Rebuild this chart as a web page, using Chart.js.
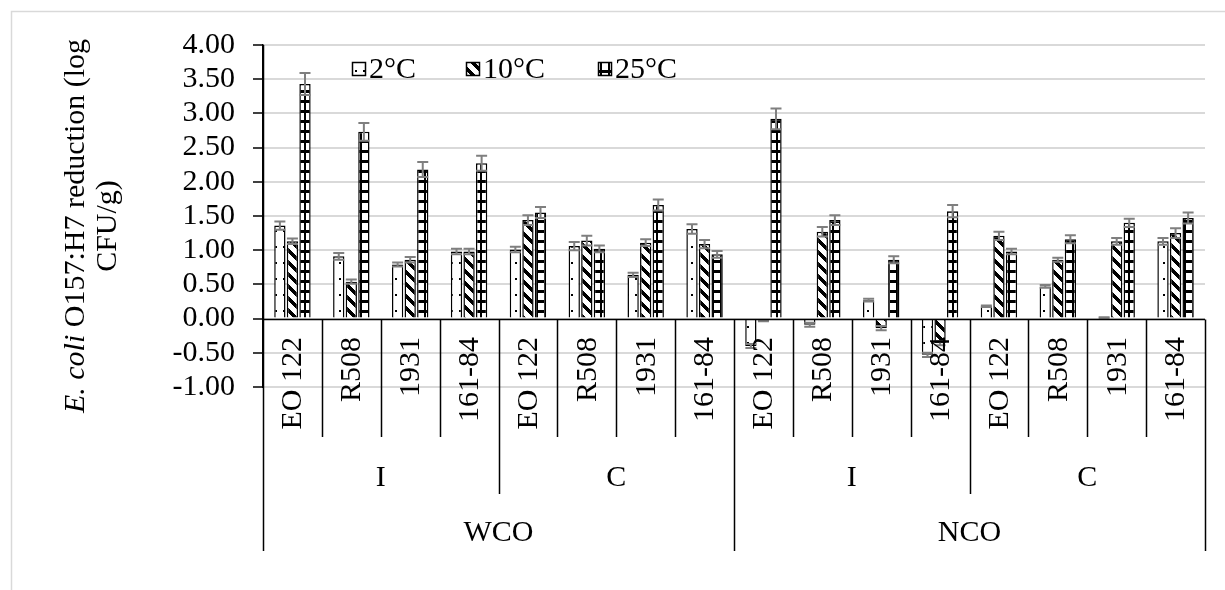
<!DOCTYPE html>
<html>
<head>
<meta charset="utf-8">
<script src="https://cdn.jsdelivr.net/npm/chart.js@4.4.1/dist/chart.umd.min.js"></script>
<style>
  html, body { margin: 0; padding: 0; background: #fff; }
  #wrap { width: 1225px; height: 590px; position: relative; }
</style>
</head>
<body>
<div id="wrap"><canvas id="chart" width="1225" height="590"></canvas></div>
<script>
// categorias (3 níveis)
const strains = ['EO 122', 'R508', '1931', '161-84', 'EO 122', 'R508', '1931', '161-84',
                 'EO 122', 'R508', '1931', '161-84', 'EO 122', 'R508', '1931', '161-84'];
const treatments = ['I', 'C', 'I', 'C'];
const oils = ['WCO', 'NCO'];
const seriesNames = ['2°C', '10°C', '25°C'];

// valores (log CFU/g)
const temp2  = [1.36, 0.91, 0.79, 0.98, 1.01, 1.06, 0.64, 1.31, -0.40, -0.09, 0.27, -0.53, 0.18, 0.47, 0.01, 1.13];
const temp10 = [1.13, 0.54, 0.86, 0.98, 1.44, 1.14, 1.11, 1.09, -0.03, 1.27, -0.14, -0.36, 1.21, 0.86, 1.13, 1.25];
const temp25 = [3.43, 2.73, 2.18, 2.27, 1.55, 1.02, 1.66, 0.94, 2.92, 1.44, 0.86, 1.57, 0.98, 1.16, 1.40, 1.47];
const err2   = [0.06, 0.05, 0.03, 0.04, 0.04, 0.06, 0.03, 0.07, 0.03, 0.03, 0.02, 0.03, 0.01, 0.02, 0.01, 0.05];
const err10  = [0.04, 0.03, 0.04, 0.04, 0.07, 0.07, 0.05, 0.06, 0.01, 0.07, 0.03, 0.03, 0.06, 0.03, 0.05, 0.07];
const err25  = [0.16, 0.13, 0.11, 0.11, 0.08, 0.05, 0.08, 0.05, 0.15, 0.07, 0.05, 0.09, 0.04, 0.06, 0.06, 0.08];

const yMin = -1, yMax = 4, yStep = 0.5;

const FONT = '"Liberation Serif", "Times New Roman", serif';
const FS = 30;

const canvas = document.getElementById('chart');
const mainCtx = canvas.getContext('2d');

function makePattern(kind) {
    const c = document.createElement('canvas');
    const g = c.getContext('2d');
    if (kind === 'dots') {
        c.width = 8; c.height = 16;
        g.fillStyle = '#fff'; g.fillRect(0, 0, 8, 16);
        g.fillStyle = '#000';
        g.fillRect(3, 6, 2, 2);
    } else if (kind === 'diag') {
        c.width = 12; c.height = 12;
        g.fillStyle = '#fff'; g.fillRect(0, 0, 12, 12);
        g.fillStyle = '#000';
        for (let y = 0; y < 12; y++) {
            for (let x = 0; x < 12; x++) {
                if (((x - y) % 12 + 12) % 12 < 5) g.fillRect(x, y, 1, 1);
            }
        }
    } else {
        c.width = 8; c.height = 10;
        g.fillStyle = '#fff'; g.fillRect(0, 0, 8, 10);
        g.fillStyle = '#000';
        g.fillRect(0, 0, 8, 3);
        g.fillRect(0, 0, 2, 10);
    }
    return mainCtx.createPattern(c, 'repeat');
}

const patterns = [makePattern('dots'), makePattern('diag'), makePattern('brick')];
const errors = [err2, err10, err25];

// barras de erro
const errorBars = {
    id: 'errorBars',
    afterDatasetsDraw(chart) {
        const ctx = chart.ctx;
        const y = chart.scales.y;
        ctx.save();
        ctx.strokeStyle = '#7f7f7f';
        ctx.lineWidth = 2;
        chart.data.datasets.forEach((ds, i) => {
            const meta = chart.getDatasetMeta(i);
            meta.data.forEach((bar, j) => {
                const v = ds.data[j], e = errors[i][j];
                const y1 = y.getPixelForValue(v + e), y2 = y.getPixelForValue(v - e);
                const hw = 5.5;
                ctx.beginPath();
                ctx.moveTo(bar.x, y1); ctx.lineTo(bar.x, y2);
                ctx.moveTo(bar.x - hw, y1); ctx.lineTo(bar.x + hw, y1);
                ctx.moveTo(bar.x - hw, y2); ctx.lineTo(bar.x + hw, y2);
                ctx.stroke();
            });
        });
        ctx.restore();
    }
};

// eixo de categorias em 3 níveis, legenda e título
const decorations = {
    id: 'decorations',
    afterDraw(chart) {
        const ctx = chart.ctx;
        const area = chart.chartArea;
        const y = chart.scales.y;
        const zeroY = Math.round(y.getPixelForValue(0)) + 0.5;
        const n = strains.length;
        const w = (area.right - area.left) / n;
        ctx.save();

        // moldura
        ctx.strokeStyle = '#d9d9d9';
        ctx.lineWidth = 1.5;
        ctx.strokeRect(11.5, 11.5, 1260, 620);

        // linha do zero
        ctx.strokeStyle = '#000';
        ctx.lineWidth = 1.5;
        ctx.beginPath();
        ctx.moveTo(area.left, zeroY); ctx.lineTo(area.right, zeroY);
        ctx.stroke();

        // divisórias
        ctx.beginPath();
        for (let i = 0; i <= n; i++) {
            const x = Math.round(area.left + i * w) + 0.5;
            let bottom = 437;
            if (i % 4 === 0) bottom = 494;
            if (i % 8 === 0) bottom = 551;
            ctx.moveTo(x, i === 0 ? area.top : zeroY);
            ctx.lineTo(x, bottom);
        }
        ctx.stroke();

        // rótulos
        ctx.fillStyle = '#000';
        ctx.font = FS + 'px ' + FONT;
        ctx.textBaseline = 'middle';
        strains.forEach((s, i) => {
            const cx = area.left + (i + 0.5) * w;
            ctx.save();
            ctx.translate(cx + 1, 337);
            ctx.rotate(-Math.PI / 2);
            ctx.textAlign = 'right';
            ctx.fillText(s, 0, 0);
            ctx.restore();
        });
        ctx.textAlign = 'center';
        treatments.forEach((t, i) => {
            ctx.fillText(t, area.left + (i * 4 + 2) * w, 478);
        });
        oils.forEach((o, i) => {
            ctx.fillText(o, area.left + (i * 8 + 4) * w, 533);
        });

        // legenda
        const legendX = [352, 466, 598];
        seriesNames.forEach((name, i) => {
            ctx.fillStyle = patterns[i];
            ctx.fillRect(legendX[i], 62, 14, 14);
            ctx.strokeStyle = '#000';
            ctx.lineWidth = 1.5;
            ctx.strokeRect(legendX[i] + 0.5, 62.5, 13, 13);
            ctx.fillStyle = '#000';
            ctx.textAlign = 'left';
            ctx.fillText(name, legendX[i] + 17, 70);
        });

        // título do eixo y
        ctx.save();
        ctx.translate(76, 226);
        ctx.rotate(-Math.PI / 2);
        const italic = 'italic ' + FS + 'px ' + FONT;
        const normal = FS + 'px ' + FONT;
        const p1 = 'E. coli', p2 = ' O157:H7 reduction (log';
        ctx.font = italic; const w1 = ctx.measureText(p1).width;
        ctx.font = normal; const w2 = ctx.measureText(p2).width;
        let sx = -(w1 + w2) / 2;
        ctx.textAlign = 'left';
        ctx.font = italic; ctx.fillText(p1, sx, 0);
        ctx.font = normal; ctx.fillText(p2, sx + w1, 0);
        ctx.textAlign = 'center';
        ctx.fillText('CFU/g)', 0, 32);
        ctx.restore();

        ctx.restore();
    }
};

new Chart(canvas, {
    type: 'bar',
    data: {
        labels: strains,
        datasets: seriesNames.map((name, i) => ({
            label: name,
            data: [temp2, temp10, temp25][i],
            backgroundColor: patterns[i],
            borderColor: '#000',
            borderWidth: 1.5,
            categoryPercentage: 0.64,
            barPercentage: 0.9
        }))
    },
    options: {
        responsive: false,
        animation: false,
        layout: { padding: { left: 0, top: 45, right: 20, bottom: 203 } },
        plugins: {
            legend: { display: false },
            tooltip: { enabled: false }
        },
        scales: {
            x: { display: false },
            y: {
                min: yMin,
                max: yMax,
                afterFit: (s) => { s.width = 263; },
                ticks: {
                    stepSize: yStep,
                    autoSkip: false,
                    padding: 18,
                    color: '#000',
                    font: { family: FONT, size: FS },
                    callback: (v) => v.toFixed(2)
                },
                grid: {
                    color: '#d9d9d9',
                    lineWidth: 2,
                    tickColor: '#000',
                    tickLength: 10,
                    tickWidth: 1.5
                },
                border: { display: true, color: '#000', width: 1.5 }
            }
        }
    },
    plugins: [errorBars, decorations]
});
</script>
</body>
</html>
